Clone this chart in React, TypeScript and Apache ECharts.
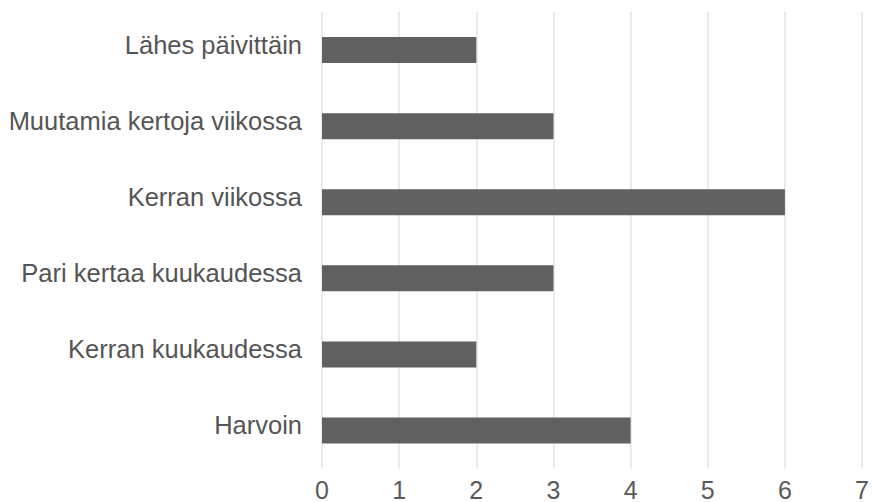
import React, { useEffect, useRef } from "react";
import * as echarts from "echarts";

const categories = [
  "Lähes päivittäin",
  "Muutamia kertoja viikossa",
  "Kerran viikossa",
  "Pari kertaa kuukaudessa",
  "Kerran kuukaudessa",
  "Harvoin",
];
const values = [2, 3, 6, 3, 2, 4];
const xTicks = [0, 1, 2, 3, 4, 5, 6, 7];

export default function App() {
  const ref = useRef<HTMLDivElement>(null);
  useEffect(() => {
    if (!ref.current) return;
    const chart = echarts.init(ref.current, null, { renderer: "svg" });
    chart.setOption({
      animation: false,
      grid: { left: 322, right: 6, top: 12, bottom: 33, containLabel: false },
      xAxis: {
        type: "value",
        min: xTicks[0],
        max: xTicks[xTicks.length - 1],
        interval: 1,
        axisLine: { show: false },
        axisTick: { show: false },
        splitLine: { show: true, lineStyle: { color: "#e3e3e3", width: 1.5 } },
        axisLabel: {
          color: "#5a5a5a",
          fontSize: 25,
          lineHeight: 20,
          fontFamily: "Liberation Sans, Arial, sans-serif",
          margin: 11,
        },
      },
      yAxis: {
        type: "category",
        data: categories,
        inverse: true,
        axisLine: { show: false },
        axisTick: { show: false },
        axisLabel: {
          interval: 0,
          color: "#555555",
          fontSize: 25.5,
          fontFamily: "Liberation Sans, Arial, sans-serif",
          margin: 20,
          verticalAlign: "bottom",
          lineHeight: 11,
        },
      },
      series: [
        {
          type: "bar",
          data: values,
          barWidth: 26,
          itemStyle: { color: "#606060" },
        },
      ],
    });
    return () => chart.dispose();
  }, []);
  return <div ref={ref} style={{ width: 872, height: 502, position: "absolute", left: 0, top: 0 }} />;
}
